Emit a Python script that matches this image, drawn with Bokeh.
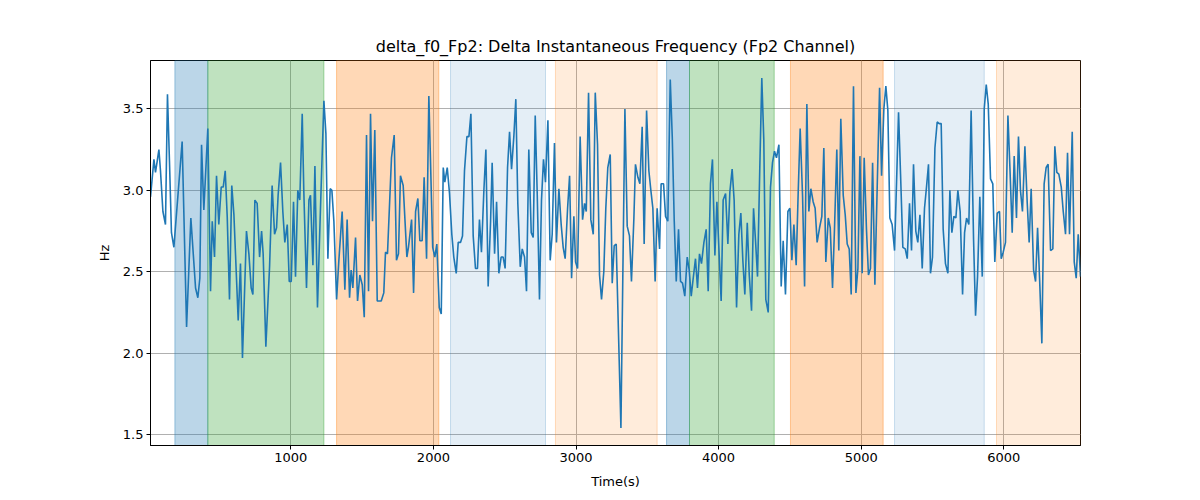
from bokeh.plotting import figure
from bokeh.models import Range1d, BoxAnnotation, FixedTicker, PrintfTickFormatter
from bokeh.embed import file_html
from bokeh.resources import INLINE

# ---- data ----
times = [16, 40, 51, 63, 75, 86, 103, 121, 135, 149, 163, 180, 238, 269, 299, 332, 348, 362, 374, 390,
         418, 437, 449, 465, 479, 495, 512, 526, 540, 554, 570, 586, 601, 631, 647, 661,
         689, 706, 722, 734, 748, 764, 781, 795, 806, 825, 851, 869, 886, 900, 911, 928, 944, 958, 975,
         989, 1003, 1019, 1033, 1049, 1063, 1080, 1091, 1110, 1127, 1138, 1155, 1169, 1187, 1208, 1232,
         1246, 1260, 1276, 1288, 1302, 1321,
         1337, 1360, 1379, 1395, 1412, 1423, 1435, 1454, 1468, 1484, 1501, 1515, 1531, 1545, 1559, 1573,
         1589, 1606, 1634, 1652, 1664, 1678, 1706, 1725, 1741, 1755, 1769, 1788, 1814, 1825, 1847, 1861,
         1875, 1891, 1905, 1921, 1935, 1952, 1968, 1995,
         2010, 2024, 2041, 2055, 2069, 2080, 2097, 2113, 2129, 2143, 2160, 2174, 2190, 2204, 2218, 2235,
         2249, 2263, 2279, 2295, 2309, 2323, 2337, 2354, 2368, 2384, 2401, 2412, 2429, 2443, 2459, 2475,
         2489, 2503, 2520, 2534, 2548, 2564, 2578, 2592, 2609, 2623, 2639, 2653, 2669,
         2686, 2700, 2714, 2728, 2744, 2758, 2772, 2786, 2803, 2819, 2833, 2849, 2863, 2880, 2896, 2910,
         2924, 2941, 2955, 2969, 2985, 2997, 3011, 3029, 3046, 3060, 3072, 3088, 3104, 3121, 3135, 3151,
         3165, 3179, 3195, 3209, 3223, 3240, 3254, 3268, 3282, 3315, 3343,
         3359, 3375, 3389, 3406, 3417, 3434, 3448, 3464, 3478, 3495, 3511, 3525, 3539, 3555, 3569, 3586,
         3597, 3614, 3628, 3644, 3661, 3675, 3689, 3703, 3719, 3733, 3747, 3763, 3780, 3794, 3808, 3822,
         3838, 3852, 3866, 3880, 3897, 3913, 3927, 3943, 3957, 3974, 3988,
         4018, 4032, 4049, 4065, 4079, 4095, 4109, 4126, 4142, 4156, 4170, 4184, 4201, 4215, 4231, 4245,
         4259, 4273, 4289, 4303, 4317, 4331, 4348, 4364, 4378, 4392, 4406, 4423, 4439, 4453, 4469, 4486,
         4500, 4514, 4528, 4544, 4558, 4572, 4589, 4603, 4619, 4633, 4647, 4663,
         4677, 4691, 4708, 4724, 4738, 4752, 4769, 4783, 4799, 4813, 4829, 4843, 4857, 4874, 4888, 4902,
         4916, 4930, 4946, 4963, 4977, 4991, 5007, 5021, 5037, 5051, 5065, 5080, 5096, 5112, 5129, 5143,
         5159, 5173, 5187, 5201, 5217, 5234, 5248, 5262, 5276, 5292, 5309, 5323, 5339,
         5353, 5367, 5383, 5397, 5412, 5428, 5444, 5458, 5472, 5486, 5500, 5517, 5533, 5547, 5561, 5575,
         5591, 5608, 5622, 5636, 5650, 5664, 5678, 5694, 5711, 5725, 5739, 5755, 5771, 5788, 5802, 5816,
         5832, 5849, 5863, 5877, 5891, 5907, 5923, 5937,
         5954, 5970, 5982, 5996, 6012, 6029, 6043, 6059, 6073, 6089, 6103, 6117, 6131, 6148, 6164, 6178,
         6192, 6209, 6223, 6237, 6251, 6267, 6283, 6297, 6311, 6328, 6344, 6358, 6372, 6386, 6403, 6417,
         6433, 6447, 6461, 6480, 6494, 6508, 6522, 6538]

delta_f0 = [2.96, 3.19, 3.11, 3.18, 3.25, 3.12, 2.87, 2.79, 3.59, 3.18, 2.74, 2.65, 3.30, 2.16, 2.83, 2.40, 2.34, 2.46, 3.28, 2.88,
            3.38, 2.38, 2.81, 2.59, 3.09, 2.79, 3.02, 3.02, 3.12, 2.84, 2.33, 3.03, 2.85, 2.20, 2.55, 1.97,
            2.75, 2.61, 2.40, 2.36, 2.94, 2.92, 2.59, 2.75, 2.61, 2.04, 2.53, 3.03, 2.73, 2.77, 2.97, 3.17, 2.87, 2.68, 2.79,
            2.44, 2.44, 2.93, 2.47, 3.00, 2.94, 3.47, 3.00, 2.40, 2.94, 2.97, 2.54, 3.15, 2.28, 2.89, 3.55,
            3.35, 2.58, 3.01, 3.00, 2.81, 2.33,
            2.57, 2.87, 2.39, 2.82, 2.34, 2.51, 2.40, 2.71, 2.32, 2.48, 2.42, 2.22, 3.34, 2.38, 3.47, 2.81,
            3.37, 2.32, 2.32, 2.37, 2.62, 2.61, 3.20, 3.34, 2.57, 2.61, 3.09, 3.03, 2.59, 2.65, 2.82, 2.37,
            2.87, 2.95, 2.69, 2.69, 3.08, 2.58, 3.58, 2.65,
            2.59, 2.67, 2.28, 2.24, 3.14, 3.05, 3.14, 2.98, 2.73, 2.59, 2.49, 2.68, 2.68, 2.72, 3.12, 3.33,
            3.33, 3.47, 2.72, 2.52, 2.52, 2.82, 2.62, 3.00, 3.25, 2.41, 2.81, 3.17, 2.61, 2.93, 2.49, 2.59,
            2.59, 2.52, 3.14, 3.36, 3.13, 3.33, 3.56, 2.92, 2.53, 2.64, 2.59, 2.38, 3.25,
            2.74, 2.71, 3.46, 2.98, 2.33, 2.94, 3.19, 3.05, 3.43, 2.57, 2.73, 3.29, 2.68, 3.01, 2.79, 2.65,
            2.58, 2.89, 3.09, 2.46, 2.84, 2.56, 2.52, 3.33, 2.82, 2.92, 2.87, 3.60, 2.82, 2.73, 3.60, 3.28,
            2.48, 2.33, 2.50, 2.89, 3.14, 3.22, 2.43, 2.66, 2.67, 1.54, 3.50,
            2.78, 2.72, 2.44, 2.83, 3.16, 3.08, 3.04, 3.39, 2.67, 3.49, 3.12, 3.00, 2.89, 2.44, 2.89, 2.64,
            3.04, 3.04, 2.84, 2.81, 3.68, 3.33, 2.81, 2.44, 2.76, 2.44, 2.43, 2.35, 2.59, 2.51, 2.35, 2.46,
            2.58, 2.40, 2.61, 2.55, 2.68, 2.76, 2.38, 3.04, 3.19, 2.60, 2.93,
            2.32, 2.94, 2.98, 2.67, 2.99, 3.13, 2.94, 2.28, 2.73, 2.86, 2.57, 2.36, 2.80, 2.48, 2.26, 2.89,
            2.69, 2.47, 3.14, 3.69, 3.31, 2.33, 2.25, 3.02, 3.17, 3.24, 3.20, 3.28, 2.41, 2.69, 2.36, 2.87,
            2.89, 2.57, 2.79, 2.54, 2.98, 3.38, 2.96, 2.41, 3.53, 2.87, 3.01, 2.93,
            2.89, 2.68, 2.77, 2.84, 3.26, 2.56, 2.83, 2.77, 2.40, 2.77, 3.25, 2.63, 3.44, 2.97, 2.85, 2.67,
            2.64, 2.36, 3.64, 2.37, 2.52, 3.21, 2.49, 3.20, 2.76, 2.48, 2.52, 3.17, 2.42, 3.01, 3.63, 3.09,
            3.50, 3.64, 3.49, 2.83, 2.79, 2.63, 3.05, 3.48, 3.10, 2.65, 2.64, 2.58, 2.92,
            2.63, 3.16, 2.75, 2.68, 2.85, 2.52, 2.89, 3.02, 3.16, 2.49, 2.59, 3.26, 3.42, 3.41, 3.41, 2.76,
            2.55, 2.49, 3.00, 2.74, 2.84, 2.83, 3.00, 2.87, 2.36, 2.74, 2.83, 2.79, 3.49, 2.70, 2.23, 2.47,
            2.96, 2.47, 3.50, 3.65, 3.53, 3.07, 3.04, 2.56,
            2.86, 2.87, 2.58, 2.62, 2.68, 3.46, 3.14, 2.74, 3.21, 2.83, 3.33, 3.00, 2.87, 3.27, 2.93, 2.68,
            3.01, 2.51, 2.44, 2.77, 2.46, 2.06, 3.04, 3.14, 3.16, 2.63, 2.64, 3.27, 3.11, 3.10, 3.02, 2.87,
            2.73, 3.23, 2.73, 3.36, 2.56, 2.46, 2.73, 2.47]

# segment spans (seconds) and their class
span_start = [187, 418, 1321, 2120, 2856, 3635, 3796, 4504, 5234, 5949]
span_end = [418, 1232, 2038, 2786, 3569, 3796, 4390, 5154, 5863, 6538]
span_kind = ["A", "B", "C", "D", "E", "A", "B", "C", "D", "E"]

x_ticks = [1000, 2000, 3000, 4000, 5000, 6000]
y_ticks = [1.5, 2.0, 2.5, 3.0, 3.5]

# ---- styles ----
kind_style = {
    "A": ("#1f77b4", 0.3),
    "B": ("#2ca02c", 0.3),
    "C": ("#ff7f0e", 0.3),
    "D": ("#1f77b4", 0.12),
    "E": ("#ff7f0e", 0.15),
}

vmin, vmax = min(delta_f0), max(delta_f0)
pad = 0.05 * (vmax - vmin)

W, H = 1192, 496
p = figure(width=W, height=H, output_backend="svg", toolbar_location=None,
           x_range=Range1d(min(times), max(times)),
           y_range=Range1d(vmin - pad, vmax + pad),
           title="delta_f0_Fp2: Delta Instantaneous Frequency (Fp2 Channel)",
           min_border_left=150, min_border_right=W - 1080, min_border_top=60,
           min_border_bottom=H - 445)

for s, e, k in zip(span_start, span_end, span_kind):
    c, a = kind_style[k]
    p.add_layout(BoxAnnotation(left=s, right=e, fill_color=c, fill_alpha=a,
                               line_color=c, line_alpha=min(1.0, a + 0.1), line_width=1,
                               level="underlay"))

p.line(times, delta_f0, line_color="#1f77b4", line_width=1.6)

p.title.align = "center"
p.title.text_font = "DejaVu Sans"
p.title.text_font_size = "16px"
p.title.text_font_style = "normal"
p.title.text_color = "black"

p.xaxis.ticker = FixedTicker(ticks=x_ticks)
p.yaxis.ticker = FixedTicker(ticks=y_ticks)
p.yaxis.formatter = PrintfTickFormatter(format="%.1f")
p.xaxis.axis_label = "Time(s)"
p.yaxis.axis_label = "Hz"
for ax in (p.xaxis, p.yaxis):
    ax.axis_label_text_font = "DejaVu Sans"
    ax.axis_label_text_font_size = "13px"
    ax.axis_label_text_font_style = "normal"
    ax.axis_label_text_color = "black"
    ax.major_label_text_font = "DejaVu Sans"
    ax.major_label_text_font_size = "13px"
    ax.major_label_text_color = "black"
    ax.major_tick_out = 4
    ax.major_tick_in = 0
    ax.minor_tick_out = 0
    ax.minor_tick_in = 0
    ax.axis_line_color = "black"
    ax.major_tick_line_color = "black"
    ax.major_label_standoff = 3
p.xaxis.axis_label_standoff = 9
p.yaxis.axis_label_standoff = 8
p.yaxis.major_label_orientation = "horizontal"

p.grid.grid_line_color = "#b0b0b0"
p.grid.grid_line_width = 1
p.outline_line_color = "black"
p.outline_line_alpha = 1
p.background_fill_color = "white"

open("out.html", "w").write(file_html(p, INLINE))
